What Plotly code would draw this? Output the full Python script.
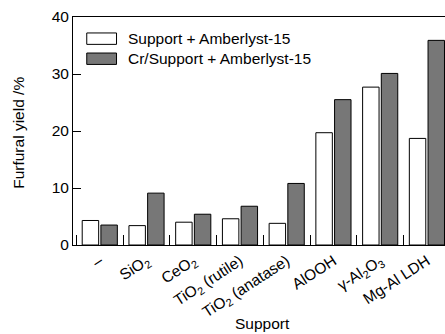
import plotly.graph_objects as go

# Furfural yield by support, with and without Cr loading
supports = [
    "–",
    "SiO<sub>2</sub>",
    "CeO<sub>2</sub>",
    "TiO<sub>2</sub> (rutile)",
    "TiO<sub>2</sub> (anatase)",
    "AlOOH",
    "γ-Al<sub>2</sub>O<sub>3</sub>",
    "Mg-Al LDH",
]
support_only = [4.3, 3.4, 4.0, 4.6, 3.8, 19.7, 27.7, 18.7]
cr_support = [3.5, 9.1, 5.4, 6.8, 10.8, 25.5, 30.1, 35.9]

series_names = ["Support + Amberlyst-15", "Cr/Support + Amberlyst-15"]
series_colors = ["#ffffff", "#777777"]

FONT = "Liberation Sans, Arial, sans-serif"
FS = 15.5

fig = go.Figure()
for name, vals, col in zip(series_names, [support_only, cr_support], series_colors):
    fig.add_trace(go.Bar(
        x=list(range(len(supports))),
        y=vals,
        name=name,
        marker=dict(color=col, line=dict(color="#000000", width=1)),
        showlegend=False,
    ))

# Hand-drawn legend: wide swatches with labels
legend_y = [0.905, 0.817]
for name, col, yc in zip(series_names, series_colors, legend_y):
    fig.add_shape(type="rect", xref="paper", yref="paper",
                  x0=0.037, x1=0.117, y0=yc - 0.025, y1=yc + 0.025,
                  fillcolor=col, line=dict(color="#000000", width=1))
    fig.add_annotation(text=name, xref="paper", yref="paper",
                       x=0.142, y=yc, xanchor="left", yanchor="middle",
                       showarrow=False, font=dict(family=FONT, size=FS, color="#000000"))

# Axis titles
fig.add_annotation(text="Furfural yield /%", xref="paper", yref="paper",
                   x=0, y=0.492, xshift=-54, textangle=-90,
                   xanchor="center", yanchor="middle", showarrow=False,
                   font=dict(family=FONT, size=FS, color="#000000"))
fig.add_annotation(text="Support", xref="paper", yref="paper",
                   x=0.51, y=0, yshift=-78, xanchor="center", yanchor="middle",
                   showarrow=False, font=dict(family=FONT, size=FS, color="#000000"))

fig.update_layout(
    width=445, height=334,
    margin=dict(l=73, r=0, t=17, b=89),
    paper_bgcolor="#ffffff", plot_bgcolor="#ffffff",
    barmode="group", bargap=0.2, bargroupgap=0.12,
    font=dict(family=FONT, size=FS, color="#000000"),
    xaxis=dict(
        range=[-0.573, 7.387],
        tickmode="array", tickvals=list(range(len(supports))), ticktext=supports,
        tickangle=-33,
        showline=True, linecolor="#000000", linewidth=1, mirror=True,
        showgrid=False, zeroline=False,
        ticks="", tickfont=dict(family=FONT, size=FS, color="#000000"),
    ),
    yaxis=dict(
        range=[0, 40], tickvals=[0, 10, 20, 30, 40],
        showline=True, linecolor="#000000", linewidth=1, mirror=False,
        showgrid=False, zeroline=False,
        ticks="inside", ticklen=8, tickcolor="#000000",
        tickfont=dict(family=FONT, size=FS, color="#000000"),
    ),
)

# Small upward ticks at category boundaries on a secondary axis overlay
fig.update_layout(
    xaxis2=dict(
        overlaying="x", matches="x", side="bottom", anchor="y",
        tickmode="array", tickvals=[i - 0.5 for i in range(len(supports))],
        ticktext=[""] * len(supports),
        ticks="inside", ticklen=10, tickcolor="#000000",
        showline=False, showgrid=False, zeroline=False,
    )
)
fig.add_trace(go.Scatter(x=[0], y=[0], xaxis="x2", mode="markers",
                         marker=dict(opacity=0), showlegend=False, hoverinfo="skip"))

fig.write_html("out.html")
